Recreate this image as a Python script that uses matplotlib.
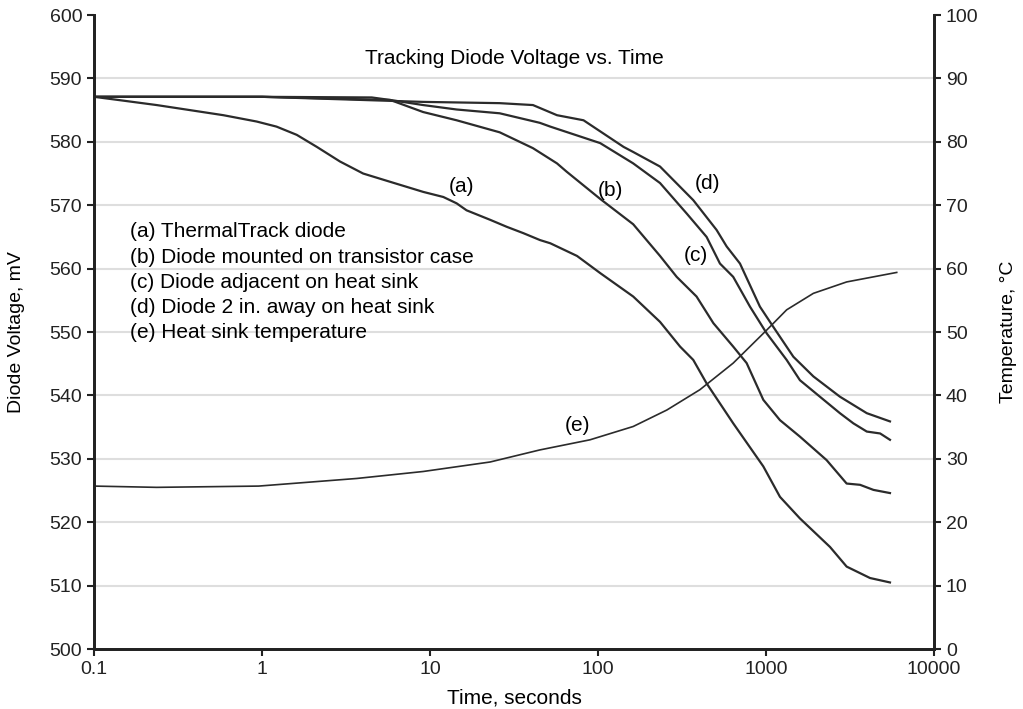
import matplotlib
matplotlib.use("Agg")
import matplotlib.pyplot as plt
from matplotlib.ticker import FixedLocator, FixedFormatter, NullLocator

plt.rcParams['font.family'] = ['Liberation Sans', 'DejaVu Sans']

# (a) ThermalTrack diode
a_t = [0.1, 0.149, 0.236, 0.373, 0.589, 0.93, 1.22, 1.61, 2.12, 2.91, 4.0, 5.78, 9.12,
       12.0, 14.4, 16.5, 22.8, 28.6, 35.9, 45.2, 52, 75, 103, 162, 234, 308, 369, 443,
       638, 964, 1211, 1592, 2404, 3020, 4160, 5470]
a_v = [587.1, 586.5, 585.8, 585.0, 584.2, 583.2, 582.4, 581.1, 579.2, 576.9, 575.0,
       573.7, 572.1, 571.3, 570.3, 569.2, 567.7, 566.6, 565.6, 564.5, 564.0, 562.0,
       559.3, 555.6, 551.6, 547.7, 545.6, 541.9, 535.6, 528.8, 524.0, 520.6, 516.1,
       513.0, 511.2, 510.5]

# (b) Diode mounted on transistor case
b_t = [0.1, 1, 4.5, 5.8, 9.1, 14.4, 26, 41, 57, 65, 103, 162, 234, 294, 386, 486, 638,
       767, 964, 1211, 1592, 2294, 3020, 3630, 4360, 5470]
b_v = [587.1, 587.1, 587.0, 586.6, 584.7, 583.4, 581.5, 579.0, 576.6, 575.3, 571.0,
       567.0, 562.0, 558.7, 555.6, 551.4, 547.7, 545.1, 539.3, 536.1, 533.5, 529.8,
       526.1, 525.9, 525.1, 524.6]

# (c) Diode adjacent on heat sink
c_t = [0.1, 1, 5.8, 9.1, 14.4, 26, 45, 52, 103, 162, 234, 337, 443, 532, 638, 803, 1009,
       1327, 1592, 2093, 2754, 3310, 3980, 4780, 5470]
c_v = [587.1, 587.1, 586.6, 585.8, 585.1, 584.5, 583.0, 582.4, 579.8, 576.6, 573.5,
       568.7, 565.0, 560.8, 558.7, 554.0, 549.8, 545.6, 542.4, 539.8, 537.2, 535.6,
       534.3, 534.0, 533.0]

# (d) Diode 2 in. away on heat sink
d_t = [0.1, 1, 9.1, 26, 41, 57, 82, 142, 162, 234, 369, 508, 583, 700, 920, 1106, 1455,
       1914, 2754, 3980, 5470]
d_v = [587.1, 587.1, 586.3, 586.1, 585.8, 584.2, 583.4, 579.2, 578.4, 576.1, 570.8,
       566.1, 563.5, 560.8, 554.0, 550.8, 546.1, 543.0, 539.8, 537.2, 535.9]

# (e) Heat sink temperature, degC
e_t = [0.1, 0.236, 0.955, 3.66, 9.1, 22.8, 45, 89.6, 162, 257, 404, 638, 1009, 1327,
       1914, 3020, 6000]
e_T = [25.7, 25.5, 25.7, 26.9, 28.0, 29.5, 31.4, 33.0, 35.1, 37.7, 40.9, 45.1, 50.3,
       53.5, 56.1, 57.9, 59.4]

legend_lines = ["(a) ThermalTrack diode",
                "(b) Diode mounted on transistor case",
                "(c) Diode adjacent on heat sink",
                "(d) Diode 2 in. away on heat sink",
                "(e) Heat sink temperature"]

line_col = '#2b2b2b'
txt = 15

fig = plt.figure(figsize=(10.23, 7.09), dpi=100)
ax = fig.add_axes([0.0919, 0.0846, 0.8211, 0.8942])
ax2 = ax.twinx()

ax.set_xscale('log')
ax.set_xlim(0.1, 10000)
ax.set_ylim(500, 600)
ax2.set_ylim(0, 100)

for yv in range(510, 600, 10):
    ax.axhline(yv, color='#dedede', lw=1.5, zorder=0)

for t, v in [(a_t, a_v), (b_t, b_v), (c_t, c_v), (d_t, d_v)]:
    ax.plot(t, v, color=line_col, lw=1.6)
ax2.plot(e_t, e_T, color=line_col, lw=1.2)

ax.xaxis.set_major_locator(FixedLocator([0.1, 1, 10, 100, 1000, 10000]))
ax.xaxis.set_major_formatter(FixedFormatter(['0.1', '1', '10', '100', '1000', '10000']))
ax.xaxis.set_minor_locator(NullLocator())
ax.set_yticks(range(500, 601, 10))
ax2.set_yticks(range(0, 101, 10))

for a in (ax, ax2):
    a.spines['top'].set_visible(False)
    for s in ('left', 'right', 'bottom'):
        a.spines[s].set_linewidth(2)
        a.spines[s].set_color('#222222')
    a.tick_params(direction='out', length=5, width=1.5, labelsize=14, colors='#222222')

ax.set_xlabel("Time, seconds", fontsize=15)
ax.set_ylabel("Diode Voltage, mV", fontsize=14)
ax2.set_ylabel("Temperature, \u00b0C", fontsize=14)
ax.xaxis.set_label_coords(0.5, -0.0615)
ax.yaxis.set_label_coords(-0.082, 0.5)
ax2.yaxis.set_label_coords(1.079, 0.5)

ax.text(0.5, 0.932, "Tracking Diode Voltage vs. Time", transform=ax.transAxes,
        ha='center', va='center', fontsize=txt)

for i, s in enumerate(legend_lines):
    ax.text(0.043, 0.658 - i * 0.0398, s, transform=ax.transAxes,
            ha='left', va='center', fontsize=txt)

ax.text(15.5, 573.0, "(a)", ha='center', va='center', fontsize=txt)
ax.text(118, 572.4, "(b)", ha='center', va='center', fontsize=txt)
ax.text(383, 562.0, "(c)", ha='center', va='center', fontsize=txt)
ax.text(446, 573.5, "(d)", ha='center', va='center', fontsize=txt)
ax.text(75, 535.3, "(e)", ha='center', va='center', fontsize=txt)

fig.savefig("out.png", dpi=100)
